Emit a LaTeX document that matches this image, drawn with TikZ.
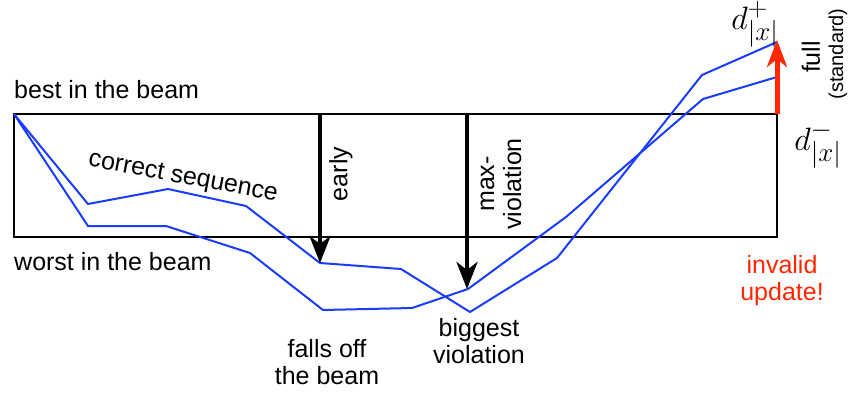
\documentclass[tikz,border=0pt]{standalone}
\usepackage{graphicx}
\usepackage[no-math]{fontspec}
\setmainfont{Liberation Sans}
\usetikzlibrary{arrows.meta}

\definecolor{pathblue}{RGB}{25,60,255}
\definecolor{alertred}{RGB}{255,38,0}

% score symbols, set at the largest design size and enlarged
\newcommand{\scoresym}[1]{\scalebox{1.3}{$#1$}}

\tikzset{
  label text/.style={inner sep=0pt, font=\fontsize{25}{27}\selectfont},
  small text/.style={inner sep=0pt, font=\fontsize{20}{22}\selectfont},
  math text/.style={inner sep=0pt, font=\fontsize{24.88}{28}\selectfont},
  beam box/.style={draw=black, line width=2pt},
  score path/.style={draw=pathblue, line width=2pt, line join=miter},
  update arrow/.style={draw=black, line width=4pt,
    -{Stealth[length=27pt, width=21pt, inset=8pt]}},
  full arrow/.style={draw=alertred, line width=5pt,
    -{Stealth[length=27pt, width=20pt, inset=8pt]}},
}

\begin{document}
\begin{tikzpicture}[x=1pt, y=-1pt]
  \useasboundingbox (0,0) rectangle (853,394);

  % beam: best and worst scores at each step
  \coordinate (tl) at (14,114);
  \coordinate (br) at (777,237);
  \draw[beam box] (tl) rectangle (br);
  \coordinate (tr) at (777,114);

  % correct sequence and the beam's best candidate
  \draw[score path] (14,114) -- (88,204) -- (168,189) -- (246,206)
     -- (320,263) -- (401,269) -- (470,312) -- (557,258) -- (702,75) -- (777,42);
  \draw[score path] (14,114) -- (88,226) -- (166,226) -- (250,253)
     -- (323,310) -- (412,308) -- (468,289) -- (566,217) -- (703,99) -- (777,77);

  % update points
  \coordinate (earlyTop) at (320,114);
  \coordinate (earlyTip) at (320,263);
  \coordinate (maxTop) at (467,114);
  \coordinate (maxTip) at (467,289);
  \coordinate (fullTip) at (777,40);

  \draw[update arrow] (earlyTop) -- (earlyTip);
  \draw[update arrow] (maxTop) -- (maxTip);
  \draw[full arrow] (tr) -- (fullTip);

  % labels
  \node[label text, anchor=base west] (best) at (14,98) {best in the beam};
  \node[label text, anchor=base west] (worst) at (14,270) {worst in the beam};
  \node[label text, rotate=-10.5] (correct) at (183,178) {correct sequence};
  \node[label text, rotate=90] (early) at (341,174) {early};
  \node[label text, rotate=90, align=center] (maxv) at (501,184) {max-\\violation};
  \node[label text, align=center] (falls) at (327,362) {falls off\\the beam};
  \node[label text, align=center] (biggest) at (479,341) {biggest\\violation};
  \node[label text, align=center, text=alertred] (invalid) at (782,281) {invalid\\update!};
  \node[math text] (dplus) at (755,24) {\scoresym{d^+_{|x|}}};
  \node[math text] (dminus) at (818,145) {\scoresym{d^-_{|x|}}};
  \node[label text, rotate=90] (full) at (811,57) {full};
  \node[small text, rotate=90] (standard) at (838,54) {(standard)};
\end{tikzpicture}
\end{document}
